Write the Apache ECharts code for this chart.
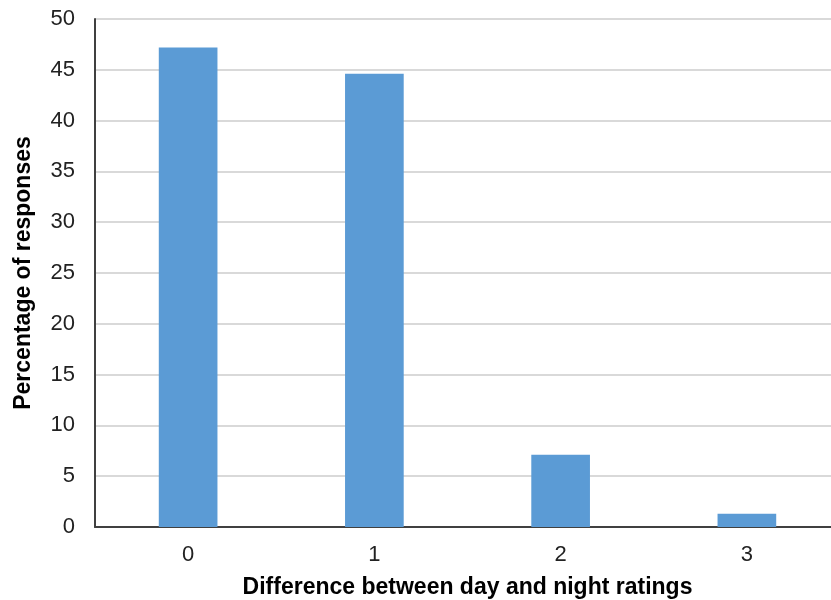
<!DOCTYPE html>
<html><head><meta charset="utf-8">
<script src="https://cdn.jsdelivr.net/npm/echarts@6/dist/echarts.min.js"></script>
<style>html,body{margin:0;padding:0;background:#fff}#c{width:831px;height:600px}</style>
</head><body><div id="c"></div>
<script>
const categories = ['0', '1', '2', '3'];
const values = [47.2, 44.6, 7.1, 1.3];
const yTicks = { min: 0, max: 50, interval: 5 };

const chart = echarts.init(document.getElementById('c'), null, { renderer: 'canvas' });
chart.setOption({
  animation: false,
  grid: { left: 95, width: 745, top: 19, height: 508, containLabel: false, outerBoundsMode: 'none' },
  xAxis: {
    type: 'category', data: categories,
    name: 'Difference between day and night ratings',
    nameLocation: 'middle', nameGap: 49,
    nameTextStyle: { fontFamily: 'Liberation Sans', fontWeight: 'bold', fontSize: 23, color: '#000' },
    axisLine: { lineStyle: { color: '#404040', width: 2 } },
    axisTick: { show: false },
    axisLabel: { fontFamily: 'Liberation Sans', fontSize: 22, color: '#222', margin: 17 }
  },
  yAxis: {
    type: 'value', min: yTicks.min, max: yTicks.max, interval: yTicks.interval,
    name: 'Percentage of responses',
    nameLocation: 'middle', nameGap: 60,
    nameTextStyle: { fontFamily: 'Liberation Sans', fontWeight: 'bold', fontSize: 23, color: '#000' },
    axisLine: { show: true, lineStyle: { color: '#404040', width: 2 } },
    axisTick: { show: false },
    axisLabel: { fontFamily: 'Liberation Sans', fontSize: 22, color: '#222', margin: 20 },
    splitLine: { lineStyle: { color: '#d9d9d9', width: 2 } }
  },
  series: [{
    type: 'bar', data: values, barWidth: '31.5%',
    itemStyle: { color: '#5b9bd5' }
  }]
});
</script></body></html>
